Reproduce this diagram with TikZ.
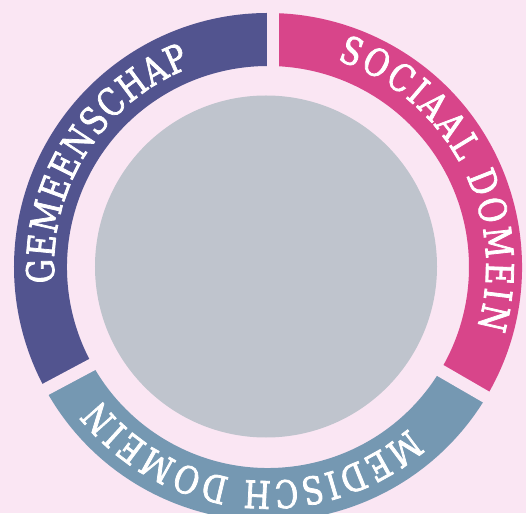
\documentclass[tikz,border=0pt]{standalone}
\usepackage{fontspec}
\usetikzlibrary{decorations.text}
\newfontfamily\ringfont[FakeStretch=0.8, FakeBold=2]{DejaVu Serif}
\newcommand{\ringtext}{\ringfont\fontsize{38}{44}\selectfont}
\definecolor{bgpink}{HTML}{FAE6F3}
\definecolor{gemeenschap}{HTML}{52548F}
\definecolor{sociaal}{HTML}{D8458A}
\definecolor{medisch}{HTML}{7598B2}
\definecolor{hubgrey}{HTML}{BFC4CD}
\tikzset{
  ringlabel/.style={decorate, decoration={text along path, text color=white,
    text align={fit to path}, text={|\ringtext|#1}}},
  gap/.style={bgpink, line width=12.5}
}
\begin{document}
\begin{tikzpicture}[x=1pt,y=1pt]
\clip (-268,-246) rectangle (258,267);
\fill[bgpink] (-268,-246) rectangle (258,267);
% ring sectors
\foreach \from/\to/\col in {89/209/gemeenschap, 209/329/medisch, 329/449/sociaal}
  \fill[\col] (\from:254) arc[start angle=\from, end angle=\to, radius=254]
    -- (\to:201) arc[start angle=\to, end angle=\from, radius=201] -- cycle;
% gaps between the sectors
\draw[gap] (5,185) -- (5,265);
\draw[gap] (-159.8,-89) -- (-235.6,-129.4);
\draw[gap] (158.5,-95.5) -- (232.8,-138.5);
% centre
\node[circle, fill=hubgrey, minimum size=342, inner sep=0pt] (hub) at (-2,0.5) {};
% labels
\path[ringlabel=GEMEENSCHAP] (184.3:214) arc[start angle=184.3, end angle=111.3, radius=214];
\path[ringlabel=SOCIAAL DOMEIN] (71.5:218) arc[start angle=71.5, end angle=-16.2, radius=218];
\path[ringlabel=MEDISCH DOMEIN] (-48.9:214) arc[start angle=-48.9, end angle=-141.8, radius=214];
\end{tikzpicture}
\end{document}
